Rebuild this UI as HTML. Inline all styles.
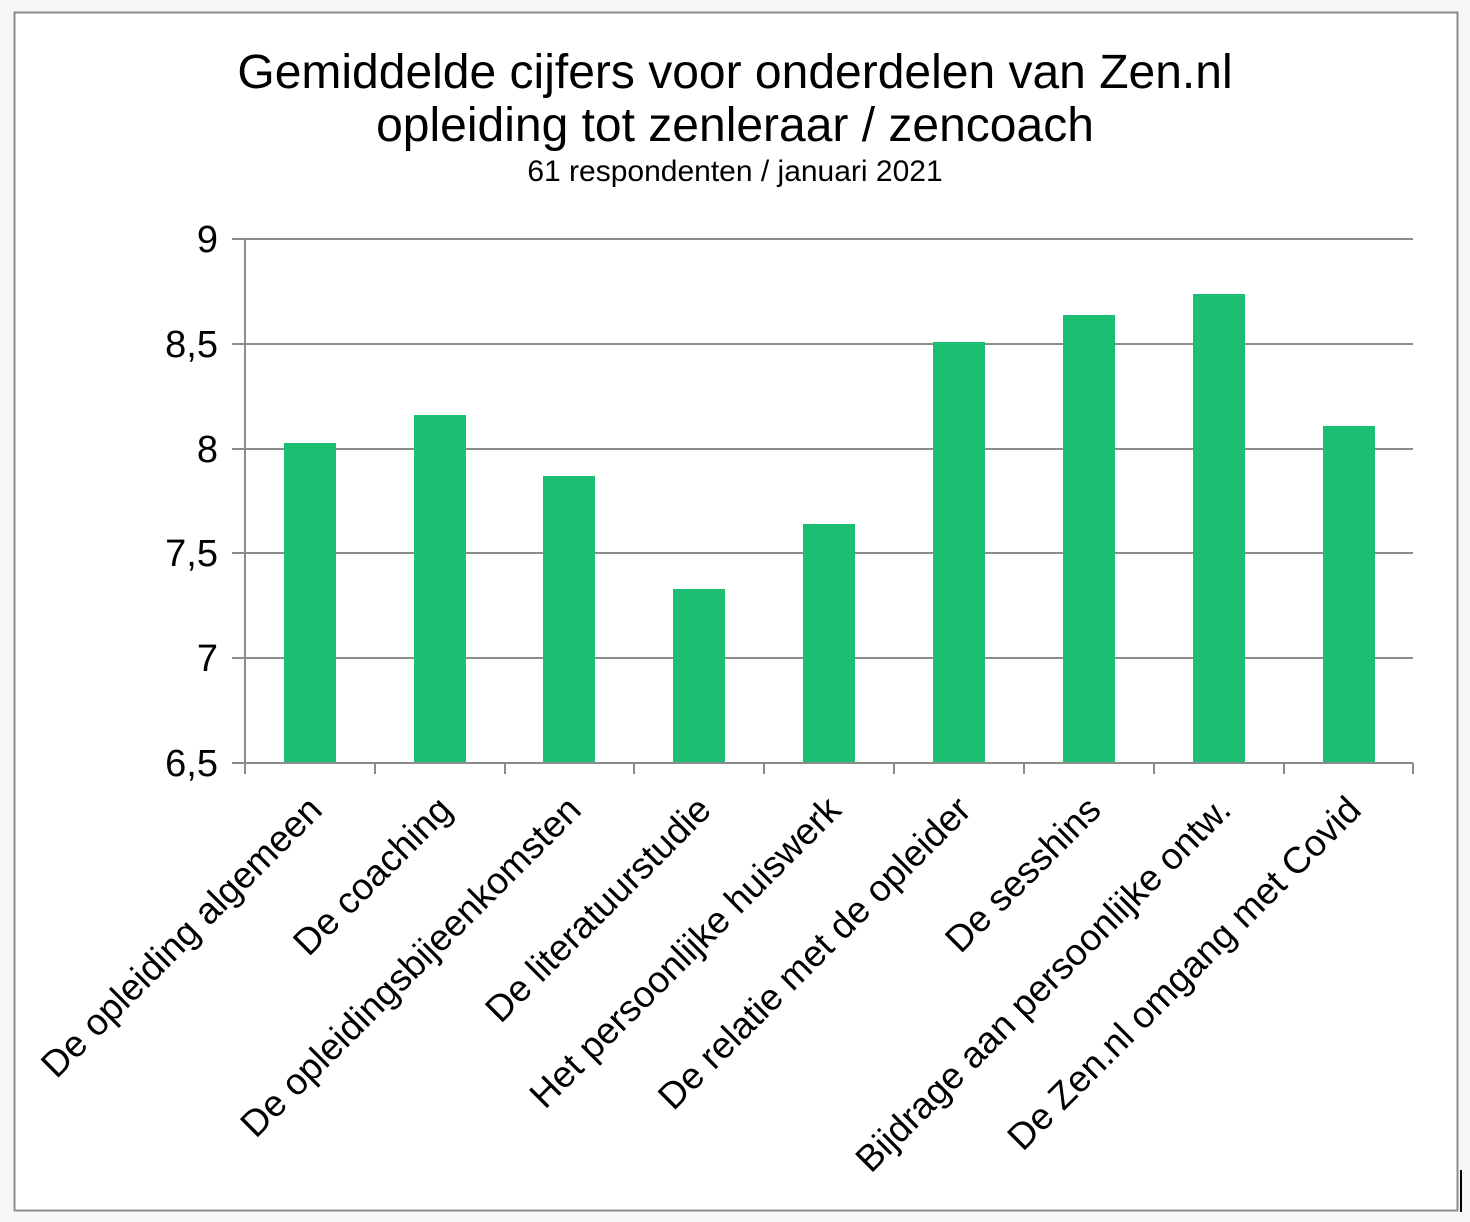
<!DOCTYPE html>
<html><head><meta charset="utf-8"><style>
body{margin:0;background:#f7f7f7;}
svg{display:block}
</style></head><body>
<svg width="1470" height="1222" xmlns="http://www.w3.org/2000/svg" font-family="Liberation Sans, sans-serif">
<rect x="0" y="0" width="1470" height="1222" fill="#f7f7f7"/>
<rect x="14.5" y="12.5" width="1443" height="1198" fill="#fff" stroke="#8c8c8c" stroke-width="2"/>
<rect x="1460" y="1170" width="2" height="42" fill="#000"/>
<text x="735" y="88" font-size="48" text-anchor="middle">Gemiddelde cijfers voor onderdelen van Zen.nl</text>
<text x="735" y="141" font-size="48" text-anchor="middle">opleiding tot zenleraar / zencoach</text>
<text x="735" y="181" font-size="30" text-anchor="middle">61 respondenten / januari 2021</text>
<g stroke="#8c8c8c" stroke-width="2">
<line x1="232" y1="239" x2="1413" y2="239"/>
<line x1="232" y1="344" x2="1413" y2="344"/>
<line x1="232" y1="449" x2="1413" y2="449"/>
<line x1="232" y1="553" x2="1413" y2="553"/>
<line x1="232" y1="658" x2="1413" y2="658"/>
</g>
<g fill="#1cbe74">
<rect x="284" y="443" width="52" height="320"/>
<rect x="414" y="415" width="52" height="348"/>
<rect x="543" y="476" width="52" height="287"/>
<rect x="673" y="589" width="52" height="174"/>
<rect x="803" y="524" width="52" height="239"/>
<rect x="933" y="342" width="52" height="421"/>
<rect x="1063" y="315" width="52" height="448"/>
<rect x="1193" y="294" width="52" height="469"/>
<rect x="1323" y="426" width="52" height="337"/>
</g>
<g stroke="#8c8c8c" stroke-width="2">
<line x1="245" y1="239" x2="245" y2="774"/>
<line x1="232" y1="763" x2="1413" y2="763"/>
<line x1="375" y1="763" x2="375" y2="774"/>
<line x1="505" y1="763" x2="505" y2="774"/>
<line x1="634" y1="763" x2="634" y2="774"/>
<line x1="764" y1="763" x2="764" y2="774"/>
<line x1="894" y1="763" x2="894" y2="774"/>
<line x1="1024" y1="763" x2="1024" y2="774"/>
<line x1="1154" y1="763" x2="1154" y2="774"/>
<line x1="1284" y1="763" x2="1284" y2="774"/>
<line x1="1413" y1="763" x2="1413" y2="774"/>
</g>
<g font-size="38" text-anchor="end">
<text x="218" y="252">9</text>
<text x="218" y="357">8,5</text>
<text x="218" y="462">8</text>
<text x="218" y="566">7,5</text>
<text x="218" y="671">7</text>
<text x="218" y="776">6,5</text>
</g>
<g font-size="37" text-anchor="end">
<text transform="translate(324,812) rotate(-45)">De opleiding algemeen</text>
<text transform="translate(454,812) rotate(-45)">De coaching</text>
<text transform="translate(583,812) rotate(-45)">De opleidingsbijeenkomsten</text>
<text transform="translate(713,812) rotate(-45)">De literatuurstudie</text>
<text transform="translate(843,812) rotate(-45)">Het persoonlijke huiswerk</text>
<text transform="translate(973,812) rotate(-45)">De relatie met de opleider</text>
<text transform="translate(1103,812) rotate(-45)">De sesshins</text>
<text transform="translate(1233,812) rotate(-45)">Bijdrage aan persoonlijke ontw.</text>
<text transform="translate(1363,812) rotate(-45)">De Zen.nl omgang met Covid</text>
</g>
</svg>
</body></html>
